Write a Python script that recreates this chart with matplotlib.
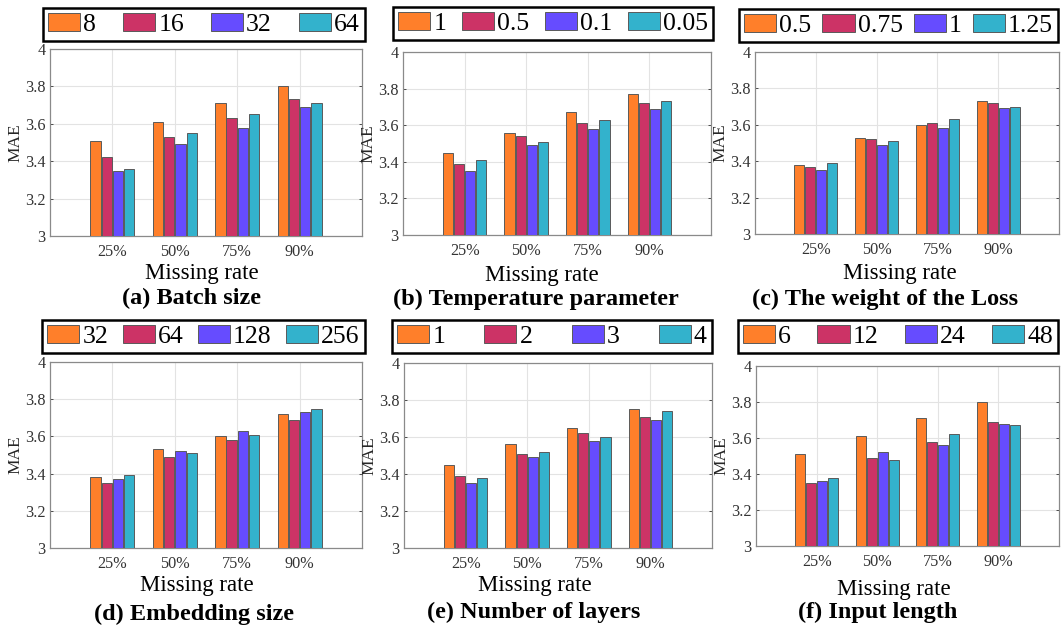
import matplotlib

matplotlib.use("Agg")
import matplotlib.pyplot as plt
import numpy as np

plt.rcParams["font.family"] = ["Liberation Serif", "DejaVu Serif"]

rates = ["25%", "50%", "75%", "90%"]
colors = ["#FF7F2A", "#CC3366", "#664CFF", "#33B2CC"]

batch_labels = ["8", "16", "32", "64"]
batch_vals = [
    [3.51, 3.61, 3.71, 3.80],
    [3.42, 3.53, 3.63, 3.73],
    [3.35, 3.49, 3.58, 3.69],
    [3.36, 3.55, 3.65, 3.71],
]

temp_labels = ["1", "0.5", "0.1", "0.05"]
temp_vals = [
    [3.45, 3.56, 3.67, 3.77],
    [3.39, 3.54, 3.61, 3.72],
    [3.35, 3.49, 3.58, 3.69],
    [3.41, 3.51, 3.63, 3.73],
]

weight_labels = ["0.5", "0.75", "1", "1.25"]
weight_vals = [
    [3.38, 3.53, 3.60, 3.73],
    [3.37, 3.52, 3.61, 3.72],
    [3.35, 3.49, 3.58, 3.69],
    [3.39, 3.51, 3.63, 3.70],
]

embed_labels = ["32", "64", "128", "256"]
embed_vals = [
    [3.38, 3.53, 3.60, 3.72],
    [3.35, 3.49, 3.58, 3.69],
    [3.37, 3.52, 3.63, 3.73],
    [3.39, 3.51, 3.61, 3.75],
]

layer_labels = ["1", "2", "3", "4"]
layer_vals = [
    [3.45, 3.56, 3.65, 3.75],
    [3.39, 3.51, 3.62, 3.71],
    [3.35, 3.49, 3.58, 3.69],
    [3.38, 3.52, 3.60, 3.74],
]

input_labels = ["6", "12", "24", "48"]
input_vals = [
    [3.51, 3.61, 3.71, 3.80],
    [3.35, 3.49, 3.58, 3.69],
    [3.36, 3.52, 3.56, 3.68],
    [3.38, 3.48, 3.62, 3.67],
]

titles = ["(a) Batch size", "(b) Temperature parameter", "(c) The weight of the Loss",
          "(d) Embedding size", "(e) Number of layers", "(f) Input length"]

W, H = 1061, 628

# pixel boxes: axes (left, right, top, bottom), legend (left, right, top, bottom),
# xlabel (x, y), title (x, y)
panels = [
    (batch_labels, batch_vals, (50, 362, 49, 236), (43, 365, 5, 41), (202, 273), (192, 298)),
    (temp_labels, temp_vals, (403, 711, 52, 235), (393, 713, 5, 40), (542, 275), (536, 299)),
    (weight_labels, weight_vals, (755, 1059, 52, 234), (739, 1058, 5, 42), (900, 273), (885, 299)),
    (embed_labels, embed_vals, (50, 362, 362, 548), (42, 365, 316, 353), (197, 586), (194, 614)),
    (layer_labels, layer_vals, (404, 712, 363, 548), (392, 712, 316, 353), (535, 586), (534, 612)),
    (input_labels, input_vals, (756, 1059, 366, 546), (738, 1058, 316, 353), (894, 590), (878, 612)),
]

fig = plt.figure(figsize=(W / 100, H / 100), dpi=100)

x = np.arange(1, len(rates) + 1)
step = 0.18
width = 0.165

for (labels, vals, abox, lbox, xl_pos, t_pos), title in zip(panels, titles):
    l, r, t, b = abox
    ax = fig.add_axes([l / W, 1 - b / H, (r - l) / W, (b - t) / H])
    handles = []
    for i, (lab, v) in enumerate(zip(labels, vals)):
        h = ax.bar(x + (i - 1.5) * step, v, width, color=colors[i],
                   edgecolor="#5a5a5a", linewidth=0.7, label=lab, zorder=3)
        handles.append(h)
    ax.set_xlim(0, 5)
    ax.set_ylim(3, 4)
    ax.set_xticks(x)
    ax.set_xticklabels(rates)
    ax.set_yticks([3, 3.2, 3.4, 3.6, 3.8, 4])
    ax.set_yticklabels(["3", "3.2", "3.4", "3.6", "3.8", "4"])
    ax.grid(True, color="#e3e3e3", linewidth=0.8, zorder=0)
    ax.tick_params(direction="in", length=2.5, width=0.6, labelsize=11.7,
                   colors="#333333", top=True, right=True, pad=3)
    ax.tick_params(axis="x", length=0, pad=6)
    for s in ax.spines.values():
        s.set_color("#8a8a8a")
        s.set_linewidth(0.9)
    ax.set_ylabel("MAE", fontsize=12.5, color="#262626", labelpad=1.5)

    fig.text(xl_pos[0] / W, 1 - xl_pos[1] / H, "Missing rate", ha="center", va="center",
             fontsize=16.5)
    fig.text(t_pos[0] / W, 1 - t_pos[1] / H, title, ha="center", va="center",
             fontsize=17.5, fontweight="bold")

    ll, lr, lt, lb = lbox
    leg = fig.legend(handles=handles, loc="lower left", ncol=4, mode="expand",
                     bbox_to_anchor=(ll / W, 1 - lb / H, (lr - ll) / W, (lb - lt) / H),
                     bbox_transform=fig.transFigure, fontsize=18.5, frameon=True,
                     framealpha=1, fancybox=False, edgecolor="black", borderpad=0.2,
                     handlelength=1.25, handleheight=0.7, handletextpad=0.12,
                     columnspacing=0.4, borderaxespad=0)
    leg.get_frame().set_linewidth(1.8)

fig.savefig("out.png", dpi=100)
